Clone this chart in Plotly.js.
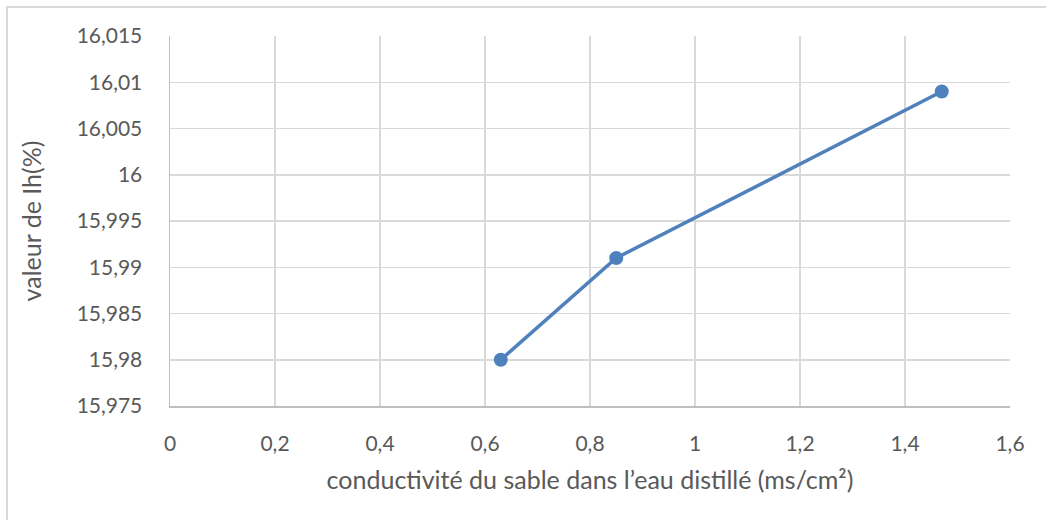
<!DOCTYPE html>
<html>
<head>
<meta charset="utf-8">
<script src="https://cdn.plot.ly/plotly-3.0.1.min.js"></script>
<style>
  body { margin: 0; background: #fff; overflow: hidden; }
  #frame { position: absolute; left: 6px; top: 6px; width: 1060px; height: 530px; border: 2px solid #d9d9d9; box-sizing: border-box; pointer-events: none; }
  #chart { position: absolute; left: 0; top: 0; width: 1046px; height: 520px; }
</style>
</head>
<body>
<div id="chart"></div>
<div id="frame"></div>
<script>
// conductivité (ms/cm²) vs Ih (%)
let conductivite = [0.63, 0.85, 1.47];
let valeurIh = [15.980, 15.991, 16.009];

let xTickVals = [0, 0.2, 0.4, 0.6, 0.8, 1, 1.2, 1.4, 1.6];
let xTickText = ['0', '0,2', '0,4', '0,6', '0,8', '1', '1,2', '1,4', '1,6'];
let yTickVals = [15.975, 15.98, 15.985, 15.99, 15.995, 16, 16.005, 16.01, 16.015];
let yTickText = ['15,975', '15,98', '15,985', '15,99', '15,995', '16', '16,005', '16,01', '16,015'];

function generate_chart(){
  let trace = {
    x: conductivite,
    y: valeurIh,
    type: 'scatter',
    mode: 'lines+markers',
    line: {color: '#4f81bd', width: 3.5},
    marker: {color: '#4f81bd', size: 14},
    cliponaxis: false
  };
  let layout = {
    width: 1046,
    height: 520,
    margin: {l: 170, r: 36, t: 36, b: 114},
    paper_bgcolor: 'rgba(0,0,0,0)',
    plot_bgcolor: '#fff',
    showlegend: false,
    font: {family: 'Lato, sans-serif', size: 20, color: '#595959'},
    xaxis: {
      range: [0, 1.6],
      tickvals: xTickVals,
      ticktext: xTickText,
      tickfont: {size: 21},
      showgrid: true,
      gridcolor: '#d9d9d9',
      gridwidth: 1.5,
      showline: true,
      linecolor: '#bfbfbf',
      linewidth: 1.5,
      zeroline: false,
      ticks: '',
      ticklabelstandoff: 18,
      title: {text: 'conductivité du sable dans l’eau distillé (ms/cm²)', standoff: 18, font: {size: 25}}
    },
    yaxis: {
      range: [15.975, 16.015],
      tickvals: yTickVals,
      ticktext: yTickText,
      tickfont: {size: 21},
      showgrid: true,
      gridcolor: '#d9d9d9',
      gridwidth: 1.5,
      showline: true,
      linecolor: '#bfbfbf',
      linewidth: 1.5,
      zeroline: false,
      ticks: '',
      ticklabelstandoff: 22,
      title: {text: 'valeur de Ih(%)', standoff: 28, font: {size: 25}}
    }
  };
  Plotly.newPlot(document.getElementById('chart'), [trace], layout, {displayModeBar: false, staticPlot: true});
}

generate_chart();
</script>
</body>
</html>
